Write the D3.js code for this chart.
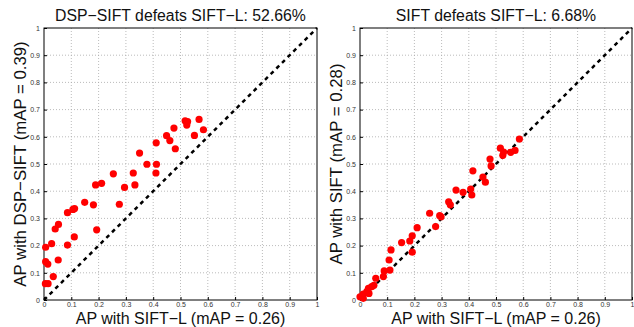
<!DOCTYPE html>
<html>
<head>
<meta charset="utf-8">
<script src="https://cdn.jsdelivr.net/npm/d3@7"></script>
<style>
body { margin: 0; background: #fff; }
svg { display: block; }
</style>
</head>
<body>
<div id="chart"></div>
<script>
// tick values shared by both axes
const ticks = [0, 0.1, 0.2, 0.3, 0.4, 0.5, 0.6, 0.7, 0.8, 0.9, 1];

// left panel: SIFT-L (x) vs DSP-SIFT (y)
const leftX = [0.005, 0.015, 0.034, 0.006, 0.014, 0.052, 0.006, 0.028, 0.086, 0.111,
	0.041, 0.053, 0.193, 0.086, 0.106, 0.112, 0.149, 0.181, 0.276, 0.189,
	0.211, 0.254, 0.295, 0.327, 0.333, 0.350, 0.377, 0.410, 0.412, 0.411,
	0.449, 0.461, 0.476, 0.481, 0.517, 0.526, 0.523, 0.551, 0.568, 0.584];
const leftY = [0.060, 0.060, 0.086, 0.141, 0.132, 0.147, 0.194, 0.207, 0.202, 0.232,
	0.261, 0.278, 0.258, 0.321, 0.333, 0.336, 0.359, 0.350, 0.352, 0.423,
	0.429, 0.464, 0.414, 0.467, 0.423, 0.540, 0.499, 0.467, 0.499, 0.578,
	0.604, 0.586, 0.632, 0.556, 0.659, 0.656, 0.643, 0.605, 0.664, 0.626];

// right panel: SIFT-L (x) vs SIFT (y)
const rightX = [0.000, 0.012, 0.012, 0.025, 0.033, 0.031, 0.043, 0.051, 0.058, 0.086,
	0.089, 0.110, 0.107, 0.114, 0.153, 0.183, 0.192, 0.192, 0.210, 0.256,
	0.278, 0.293, 0.298, 0.326, 0.332, 0.353, 0.379, 0.407, 0.411, 0.415,
	0.452, 0.461, 0.478, 0.482, 0.516, 0.528, 0.525, 0.554, 0.570, 0.586];
const rightY = [0.012, 0.006, 0.022, 0.031, 0.024, 0.043, 0.049, 0.054, 0.080, 0.086,
	0.107, 0.110, 0.147, 0.184, 0.211, 0.217, 0.236, 0.176, 0.266, 0.319,
	0.270, 0.310, 0.306, 0.361, 0.350, 0.404, 0.396, 0.408, 0.386, 0.475,
	0.452, 0.433, 0.518, 0.493, 0.558, 0.544, 0.532, 0.543, 0.550, 0.592];

const font = "Liberation Sans, Arial, sans-serif";

const svg = d3.select("#chart").append("svg")
	.attr("width", 634)
	.attr("height", 327);

function panel(xs, ys, left, right, title, yLabel, xLabel) {
	const top = 28, bottom = 300;
	const x = d3.scaleLinear().domain([0, 1]).range([left, right]);
	const y = d3.scaleLinear().domain([0, 1]).range([bottom, top]);
	const g = svg.append("g");

	// dotted grid
	g.selectAll("line.gx")
		.data(ticks.slice(1, -1))
		.join("line")
		.attr("x1", d => x(d)).attr("x2", d => x(d))
		.attr("y1", top).attr("y2", bottom)
		.attr("stroke", "#aaa").attr("stroke-width", 0.8)
		.attr("stroke-dasharray", "1,2");
	g.selectAll("line.gy")
		.data(ticks.slice(1, -1))
		.join("line")
		.attr("y1", d => y(d)).attr("y2", d => y(d))
		.attr("x1", left).attr("x2", right)
		.attr("stroke", "#aaa").attr("stroke-width", 0.8)
		.attr("stroke-dasharray", "1,2");

	// axes with inward ticks
	const xAxis = d3.axisBottom(x).tickValues(ticks).tickSize(-3).tickPadding(2)
		.tickFormat(d3.format("~g"));
	const yAxis = d3.axisLeft(y).tickValues(ticks).tickSize(-3).tickPadding(4)
		.tickFormat(d3.format("~g"));
	const gx = g.append("g").attr("transform", "translate(0," + bottom + ")").call(xAxis);
	const gy = g.append("g").attr("transform", "translate(" + left + ",0)").call(yAxis);
	[gx, gy].forEach(a => {
		a.select(".domain").remove();
		a.selectAll("text")
			.attr("font-family", font)
			.attr("font-size", "7px")
			.attr("fill", "#333");
	});

	// box
	g.append("rect")
		.attr("x", left).attr("y", top)
		.attr("width", right - left).attr("height", bottom - top)
		.attr("fill", "none").attr("stroke", "#000").attr("stroke-width", 1);

	// diagonal
	g.append("line")
		.attr("x1", x(0)).attr("y1", y(0))
		.attr("x2", x(1)).attr("y2", y(1))
		.attr("stroke", "#000").attr("stroke-width", 2.5)
		.attr("stroke-dasharray", "4,4");

	// points
	g.selectAll("circle")
		.data(xs.map((v, i) => [v, ys[i]]))
		.join("circle")
		.attr("cx", d => x(d[0]))
		.attr("cy", d => y(d[1]))
		.attr("r", 3.6)
		.attr("fill", "#f00");

	const mid = (left + right) / 2;
	g.append("text")
		.text(title)
		.attr("x", mid).attr("y", 21)
		.attr("text-anchor", "middle")
		.attr("font-family", font)
		.attr("font-size", "15.8px")
		.attr("fill", "#111");
	g.append("text")
		.text(xLabel)
		.attr("x", mid).attr("y", 323.5)
		.attr("text-anchor", "middle")
		.attr("font-family", font)
		.attr("font-size", "16px")
		.attr("fill", "#111");
	g.append("text")
		.text(yLabel)
		.attr("transform", "translate(" + (left - 18) + "," + ((top + bottom) / 2) + ") rotate(-90)")
		.attr("text-anchor", "middle")
		.attr("font-family", font)
		.attr("font-size", "16.8px")
		.attr("fill", "#111");
}

panel(leftX, leftY, 44, 317, "DSP\u2212SIFT defeats SIFT\u2212L: 52.66%",
	"AP with DSP\u2212SIFT (mAP = 0.39)", "AP with SIFT\u2212L (mAP = 0.26)");
panel(rightX, rightY, 360, 632, "SIFT defeats SIFT\u2212L: 6.68%",
	"AP with SIFT (mAP = 0.28)", "AP with SIFT\u2212L (mAP = 0.26)");
</script>
</body>
</html>
